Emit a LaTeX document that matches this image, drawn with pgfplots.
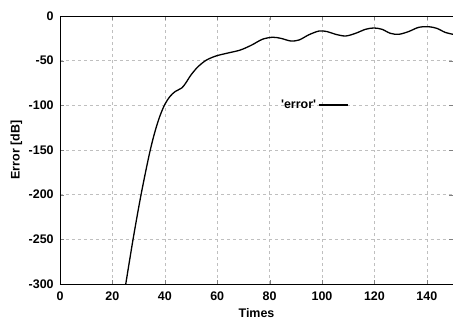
\documentclass[border=0pt]{standalone}
\usepackage{fontspec}
\setmainfont{Liberation Sans}[Ligatures=TeXOff]
\usepackage{pgfplots}
\pgfplotsset{compat=1.18}
\newcommand\chartfont{\fontsize{12.5}{14}\selectfont\bfseries}
\begin{document}
\chartfont
\begin{tikzpicture}
\begin{axis}[
  name=ax,
  scale only axis,
  width=393bp, height=268bp,
  xmin=0, xmax=150, ymin=-300, ymax=0,
  xtick={0,20,...,140}, ytick={-300,-250,...,0},
  /pgf/number format/assume math mode=true,
  tick label style={font=\chartfont},
  label style={font=\chartfont},
  xticklabel style={yshift=-3bp},
  yticklabel style={xshift=-2bp},
  xlabel={Times}, ylabel={Error [dB]},
  xlabel style={yshift=0.5bp},
  ylabel style={yshift=-2bp},
  tick align=inside, tick pos=both,
  major tick length=4bp,
  axis line style={line width=0.8bp},
  grid=major,
  major grid style={gray!50, dashed, line width=0.6bp},
  legend plot pos=right,
  legend style={at={(0.557,0.668)}, anchor=west, draw=none, fill=none, inner sep=0pt,
    font=\chartfont},
  legend image code/.code={\draw[#1] (0bp,0bp) -- (29bp,0bp);},
]
\addplot[black, line width=1.3bp, smooth, tension=0.5] coordinates {
(25.1,-300) (28,-248) (31,-199) (34,-156) (36,-132) (38,-113) (40,-99) (42,-90)
(44,-84.5) (46.5,-80.5) (48,-75) (50,-66) (52.6,-57) (55.8,-49.5) (59.6,-44.7)
(64,-41.5) (68.4,-38.5) (71,-35.5)
(73.5,-32) (77.3,-26) (81.1,-23.8) (84.3,-25) (88.1,-28) (91.3,-26.8) (95,-21)
(98.9,-16.8) (102,-17.5) (105.2,-20.5) (109,-22.4) (112.8,-19.4) (116.6,-14.9)
(119.8,-13.4) (122.9,-14.9) (126.1,-19.4) (129.3,-20.5) (133,-17.5) (136.9,-12.7)
(140.7,-12) (143.8,-13.8) (147,-18.3) (150,-20.5)
};
\addlegendentry{'error'}
\end{axis}
\pgfresetboundingbox
\path[use as bounding box] ([xshift=-60bp,yshift=-36bp]ax.south west) rectangle ([yshift=16bp]ax.north east);
\end{tikzpicture}
\end{document}
